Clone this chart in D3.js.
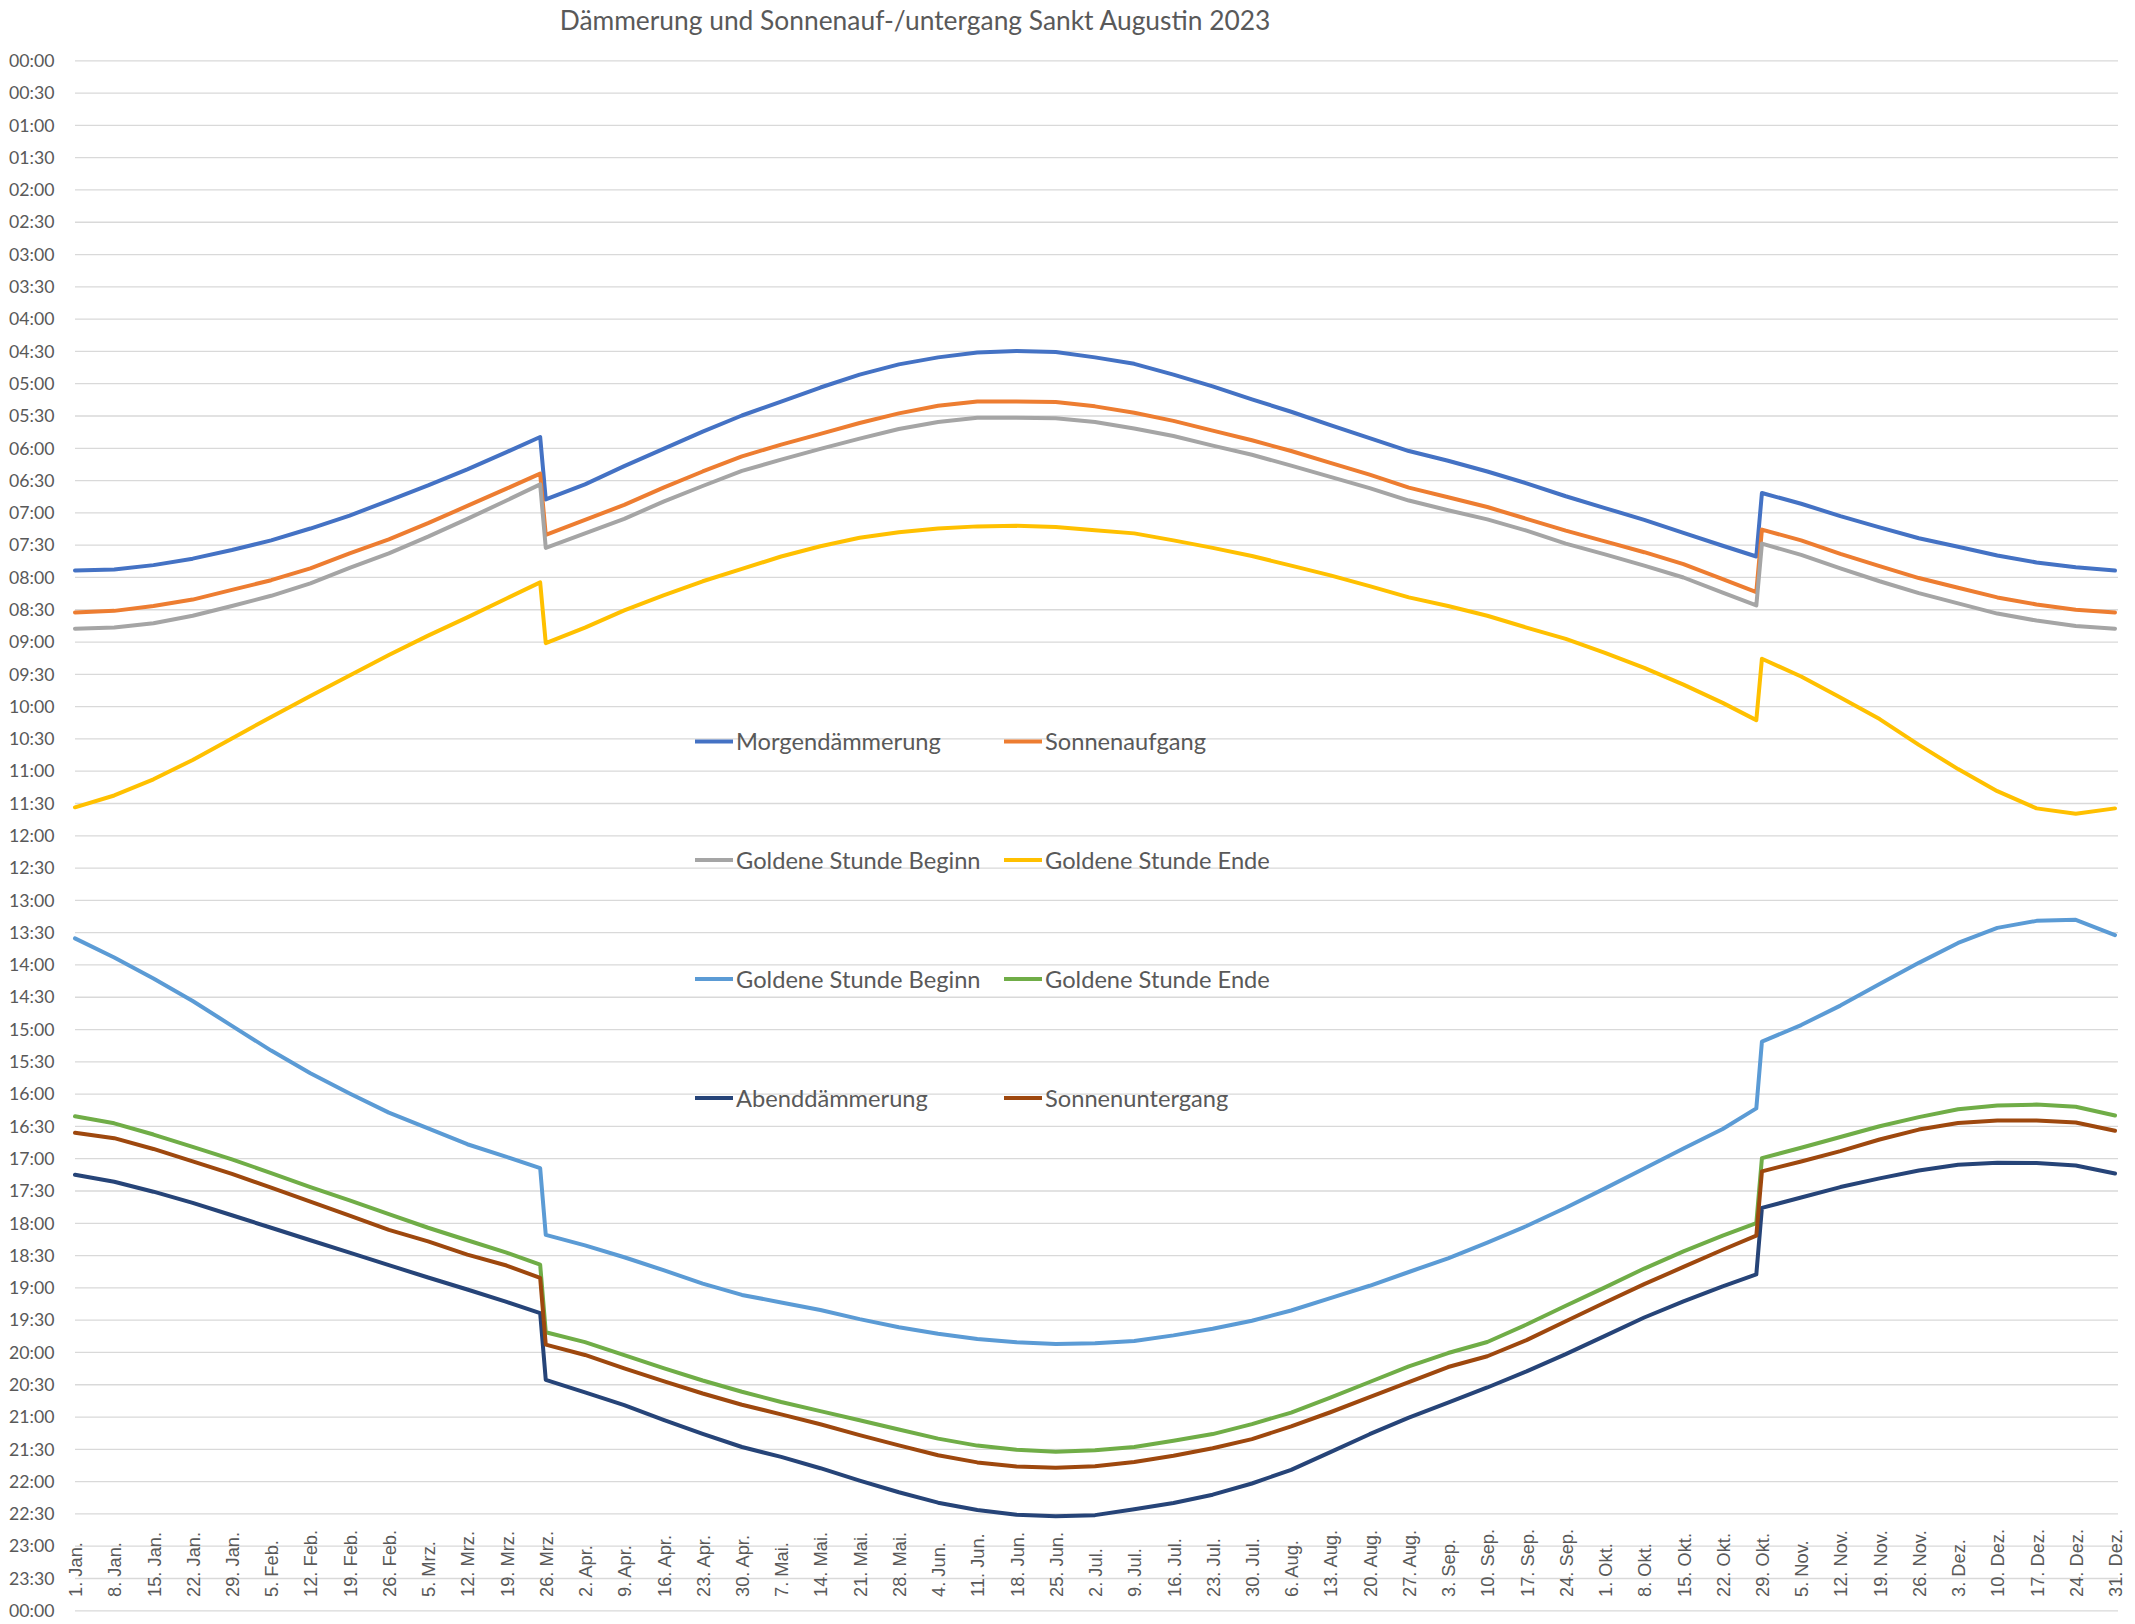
<!DOCTYPE html>
<html><head><meta charset="utf-8">
<script src="https://cdn.jsdelivr.net/npm/d3@7"></script>
<style>
html,body{margin:0;padding:0;background:#fff;}
svg{display:block;}
</style></head><body>
<svg id="chart" width="2135" height="1624"></svg>
<script>
// ---------- DATA (times in minutes after midnight) ----------
const chartTitle = "Dämmerung und Sonnenauf-/untergang Sankt Augustin 2023";

const dates = ["2023-01-01","2023-01-08","2023-01-15","2023-01-22","2023-01-29","2023-02-05","2023-02-12","2023-02-19","2023-02-26","2023-03-05","2023-03-12","2023-03-19","2023-03-25",
 "2023-03-26","2023-04-02","2023-04-09","2023-04-16","2023-04-23","2023-04-30","2023-05-07","2023-05-14","2023-05-21","2023-05-28","2023-06-04","2023-06-11","2023-06-18","2023-06-25","2023-07-02","2023-07-09","2023-07-16","2023-07-23","2023-07-30","2023-08-06","2023-08-13","2023-08-20","2023-08-27","2023-09-03","2023-09-10","2023-09-17","2023-09-24","2023-10-01","2023-10-08","2023-10-15","2023-10-22","2023-10-28",
 "2023-10-29","2023-11-05","2023-11-12","2023-11-19","2023-11-26","2023-12-03","2023-12-10","2023-12-17","2023-12-24","2023-12-31"];

const morgendaemmerung = [474,473,469,463,455,446,435,423,409,395,380,364,350,
 408,394,377,361,345,330,317,304,292,282.5,276,271.5,270,271,276,282,292,303,315,326.5,339,351,363,372,382,393,405,416,427,439,451,461,
 402,412,423.5,434,444,452,460,466.5,471,474];

const sonnenaufgang = [513,511.5,507,501,492,483,472,458,445,430,414,398,384,
 441,427,413,397,382,368,357,347,337,328,321,317,317,317.5,321.5,327.5,335,344,353,363,374,385,397,406,415,426,437,447,457,468,482,494,
 436,446,458.5,470,481,490,499,505.5,510.5,513];

const goldMorgenBeginn = [528,527,523,516,507,497.5,486,471.5,458,442.5,426,409,394,
 453,439.5,426,410,395.5,381.5,371,361,351.5,342.5,336,332,332,332.5,336,342,349,358,366.5,376.5,387,397.5,409,418,426.5,437,449,459,469.5,480.5,494.5,506.5,
 449,459.5,472,484,495,504.5,514,520.5,525.5,528];

const goldMorgenEnde = [694,683,668,650,630,610,590.5,571.5,552.5,534.5,517.5,500,485,
 541.5,527,511,497,484,472.5,461,451.5,443.5,438.5,435,433,432.5,433.5,436.5,439.5,446,453,460.5,469.5,478.5,488.5,499,507,516,527,537.5,550.5,564.5,580,597,613,
 556,572.5,592,612,636,658.5,679,695,700,695];

const goldAbendBeginn = [815.8,833.5,853,874,897,920,941,959.8,977.6,992.2,1007,1018.8,1029.2,
 1091.2,1101,1112,1124,1136.5,1147,1154,1161,1169.5,1177,1183,1188,1191,1192.7,1192,1189.8,1184.6,1178.5,1171,1161.5,1150,1138.5,1125.7,1113,1098.4,1083,1066,1048,1029.5,1011,992.8,973.7,
 911.7,896.3,878.2,858.2,838.5,820,806,799.5,798.5,812.7];

const goldAbendEnde = [981,987.6,998,1009.5,1021,1033.8,1046.9,1059.2,1072,1084.6,1096.2,1107.7,1118.9,
 1181.7,1190.9,1203,1215,1226.5,1237,1246.5,1255,1263.5,1272,1280.5,1287,1290.9,1292.6,1291.3,1288.2,1282.5,1276.3,1267,1256.3,1242.5,1227.9,1213.3,1201,1190.7,1174.5,1157,1140,1122.5,1106.5,1092,1080.4,
 1019.9,1010.3,1000.3,990.3,981.8,974.5,971,970.2,972.2,980.3];

const abenddaemmerung = [1035.3,1041.9,1051.1,1061.5,1073,1084.6,1096.2,1107.7,1119.3,1130.8,1142,1153.5,1163.9,
 1226,1237.5,1249.4,1263,1276,1288.3,1297.5,1308,1319.5,1330.3,1340,1346.9,1351.2,1352.7,1351.6,1346.1,1340.3,1332.6,1322.2,1309.5,1293,1276.4,1261,1247,1233,1218,1202,1185,1168,1153,1139,1128,
 1066.1,1056.5,1046.8,1038.7,1031.4,1026,1024.1,1024.5,1026.8,1034.2];

const sonnenuntergang = [996.4,1001.4,1011.4,1023,1034.6,1047.3,1060.4,1073.4,1086.5,1097.3,1109.6,1119.7,1131.2,
 1193.2,1202.8,1215.2,1227.1,1238.6,1249,1258,1267.2,1277.2,1286.8,1296,1302.6,1306.5,1307.6,1306.1,1302.2,1296.4,1289.5,1281,1269.1,1256,1242,1228,1214,1204,1189,1171.5,1154,1137,1121,1105,1092,
 1032.2,1023,1013.4,1002.6,993.4,987.2,984.9,984.9,986.8,994.5];

const seriesNames = ["Morgendämmerung","Sonnenaufgang","Goldene Stunde Beginn","Goldene Stunde Ende",
                     "Goldene Stunde Beginn","Goldene Stunde Ende","Abenddämmerung","Sonnenuntergang"];
const seriesColors = ["#4472C4","#ED7D31","#A5A5A5","#FFC000","#5B9BD5","#70AD47","#264478","#9E480E"];
const seriesValues = [morgendaemmerung, sonnenaufgang, goldMorgenBeginn, goldMorgenEnde,
                      goldAbendBeginn, goldAbendEnde, abenddaemmerung, sonnenuntergang];

const xTickLabels = ["1. Jan.","8. Jan.","15. Jan.","22. Jan.","29. Jan.","5. Feb.","12. Feb.","19. Feb.","26. Feb.",
 "5. Mrz.","12. Mrz.","19. Mrz.","26. Mrz.","2. Apr.","9. Apr.","16. Apr.","23. Apr.","30. Apr.","7. Mai.","14. Mai.",
 "21. Mai.","28. Mai.","4. Jun.","11. Jun.","18. Jun.","25. Jun.","2. Jul.","9. Jul.","16. Jul.","23. Jul.","30. Jul.",
 "6. Aug.","13. Aug.","20. Aug.","27. Aug.","3. Sep.","10. Sep.","17. Sep.","24. Sep.","1. Okt.","8. Okt.","15. Okt.",
 "22. Okt.","29. Okt.","5. Nov.","12. Nov.","19. Nov.","26. Nov.","3. Dez.","10. Dez.","17. Dez.","24. Dez.","31. Dez."];
const xTickStepDays = 7;

const yTickLabels = ["00:00","00:30","01:00","01:30","02:00","02:30","03:00","03:30","04:00","04:30","05:00","05:30",
 "06:00","06:30","07:00","07:30","08:00","08:30","09:00","09:30","10:00","10:30","11:00","11:30","12:00","12:30",
 "13:00","13:30","14:00","14:30","15:00","15:30","16:00","16:30","17:00","17:30","18:00","18:30","19:00","19:30",
 "20:00","20:30","21:00","21:30","22:00","22:30","23:00","23:30","00:00"];
const yTickStepMin = 30;

// ---------- LAYOUT ----------
const svg = d3.select("#chart");
const W = 2135, H = 1624;
svg.append("rect").attr("width", W).attr("height", H).attr("fill", "#fff");

const plotLeft = 75, plotRight = 2115, plotTop = 60.3, plotBottom = 1610.3;
const textColor = "#595959";
const parse = d3.utcParse("%Y-%m-%d");
const dayStart = parse("2023-01-01"), dayEnd = parse("2023-12-31");

const x = d3.scaleUtc().domain([dayStart, dayEnd]).range([plotLeft, plotRight]);
const y = d3.scaleLinear().domain([0, 1440]).range([plotTop, plotBottom]);

// gridlines + y axis labels
const yTickVals = yTickLabels.map((_, i) => i * yTickStepMin);
const yAxis = d3.axisLeft(y).tickValues(yTickVals)
  .tickFormat((d, i) => yTickLabels[i])
  .tickSize(-(plotRight - plotLeft + 3)).tickPadding(20);
const gy = svg.append("g").attr("transform", `translate(${plotLeft},0)`).call(yAxis);
gy.select(".domain").remove();
gy.selectAll(".tick line").attr("stroke", "#d9d9d9").attr("stroke-width", 1.3);
gy.selectAll(".tick text").attr("fill", textColor).attr("font-family", "Lato, 'Open Sans', sans-serif")
  .attr("font-size", 18).attr("x", -20.5).attr("dy", "0.35em");
{
  const t = gy.select(".tick text");
  const w = t.node().getComputedTextLength();
  const fs = 18 * 45.5 / w;
  gy.selectAll(".tick text").attr("font-size", fs);
}

// x axis labels (rotated, inside plot bottom)
const xTickDates = xTickLabels.map((_, i) => d3.utcDay.offset(dayStart, i * xTickStepDays));
const xAxis = d3.axisBottom(x).tickValues(xTickDates)
  .tickFormat((d, i) => xTickLabels[i]).tickSize(0);
const gx = svg.append("g").attr("transform", `translate(0,1597)`).call(xAxis);
gx.select(".domain").remove();
gx.selectAll(".tick text")
  .attr("fill", textColor)
  .attr("font-family", "'Liberation Sans', Arial, sans-serif")
  .attr("font-size", 18.3)
  .attr("text-anchor", "start")
  .attr("transform", "rotate(-90)")
  .attr("x", 0).attr("y", 0).attr("dy", "0.36em").attr("dx", 0);

// lines
const parsedDates = dates.map(parse);
const line = d3.line().x(d => x(d[0])).y(d => y(d[1])).curve(d3.curveLinear);
const gLines = svg.append("g");
seriesValues.forEach((vals, i) => {
  const pts = parsedDates.map((d, k) => [d, vals[k]]);
  gLines.append("path").datum(pts)
    .attr("d", line).attr("fill", "none")
    .attr("stroke", seriesColors[i]).attr("stroke-width", 4)
    .attr("stroke-linejoin", "round").attr("stroke-linecap", "round");
});

// title
const title = svg.append("text").text(chartTitle)
  .attr("x", 915).attr("y", 30).attr("text-anchor", "middle")
  .attr("fill", textColor).attr("font-family", "Lato, 'Open Sans', sans-serif").attr("font-size", 24);
{
  const w = title.node().getComputedTextLength();
  title.attr("font-size", 24 * 711 / w);
}

// legend
const legendCols = [695, 1004];
const legendRows = [741.5, 860, 979, 1098];
const gLeg = svg.append("g");
let legendTexts = [];
seriesNames.forEach((name, i) => {
  const cx = legendCols[i % 2], cy = legendRows[Math.floor(i / 2)];
  gLeg.append("line").attr("x1", cx).attr("x2", cx + 38).attr("y1", cy).attr("y2", cy)
    .attr("stroke", seriesColors[i]).attr("stroke-width", 4);
  const t = gLeg.append("text").text(name).attr("x", cx + 41).attr("y", cy).attr("dy", "0.36em")
    .attr("fill", textColor).attr("font-family", "Lato, 'Open Sans', sans-serif").attr("font-size", 22);
  legendTexts.push(t);
});
{
  const w = legendTexts[0].node().getComputedTextLength();
  const fs = 22 * 205 / w;
  legendTexts.forEach(t => t.attr("font-size", fs));
}
</script>
</body></html>
